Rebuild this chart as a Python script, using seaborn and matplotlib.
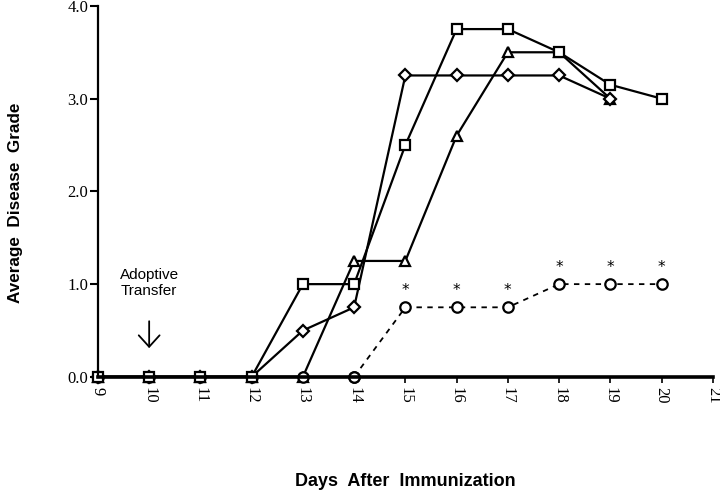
import numpy as np
import pandas as pd
import matplotlib.pyplot as plt
import seaborn as sns

days = [9, 10, 11, 12, 13, 14, 15, 16, 17, 18, 19, 20]
square = [0, 0, 0, 0, 1.0, 1.0, 2.5, 3.75, 3.75, 3.5, 3.15, 3.0]
diamond = [0, 0, 0, 0, 0.5, 0.75, 3.25, 3.25, 3.25, 3.25, 3.0]
triangle = [0, 0, 0, 0, 0, 1.25, 1.25, 2.6, 3.5, 3.5, 3.0]
circle = [0, 0, 0, 0, 0, 0, 0.75, 0.75, 0.75, 1.0, 1.0, 1.0]
star_days = [15, 16, 17, 18, 19, 20]

sns.set_style('white')
plt.rcParams['font.family'] = ['Liberation Serif', 'DejaVu Serif']
for k in ['text.color', 'axes.labelcolor', 'xtick.color', 'ytick.color']:
    plt.rcParams[k] = 'black'

fig = plt.figure(figsize=(7.2, 4.92), dpi=100)
ax = fig.add_axes([0.136, 0.234, 0.854, 0.754])

common = dict(color='black', linewidth=1.6, markerfacecolor='white',
              markeredgecolor='black', markeredgewidth=1.6, clip_on=False)

sns.lineplot(x=days[:len(triangle)], y=triangle, marker='^', markersize=7.5, ax=ax, **common)
sns.lineplot(x=days[:len(diamond)], y=diamond, marker='D', markersize=6, ax=ax, **common)
# circle group: solid up to day 14, dashed afterwards
sns.lineplot(x=days[:6], y=circle[:6], marker='o', markersize=7.5, ax=ax, **common)
dash = dict(common, linewidth=1.3)
sns.lineplot(x=days[5:], y=circle[5:], marker='o', markersize=7.5, linestyle=(0, (3, 3)),
             ax=ax, **dash)
sns.lineplot(x=days, y=square, marker='s', markersize=7.5, ax=ax, **common)

# significance stars
for d in star_days:
    v = circle[days.index(d)]
    ax.text(d, v + 0.1, '*', ha='center', va='bottom', fontsize=11, family='DejaVu Sans')

ax.text(10, 1.01, 'Adoptive\nTransfer', ha='center', va='center', fontsize=11,
        family='Liberation Sans', linespacing=1.15)
ax.annotate('', xy=(10, 0.31), xytext=(10, 0.6),
            arrowprops=dict(arrowstyle='->,head_length=0.55,head_width=0.5',
                            color='black', lw=1.3, mutation_scale=15,
                            shrinkA=0, shrinkB=0))

ax.set_xlim(9, 21)
ax.set_ylim(0, 4)
ax.set_xticks(range(9, 22))
ax.set_xticklabels([str(d) for d in range(9, 22)], rotation=-90, fontsize=12)
ax.set_yticks([0, 1, 2, 3, 4])
ax.set_yticklabels(['0.0', '1.0', '2.0', '3.0', '4.0'], fontsize=12)
ax.tick_params(axis='y', direction='out', length=6, width=1.5, left=True, pad=1)
ax.tick_params(axis='x', direction='out', length=4, width=1.2, bottom=True, pad=3)

for s in ['top', 'right']:
    ax.spines[s].set_visible(False)
ax.spines['left'].set_linewidth(1.6)
ax.spines['bottom'].set_linewidth(2.6)
ax.spines['left'].set_color('black')
ax.spines['bottom'].set_color('black')

ax.set_xlabel('Days  After  Immunization', fontsize=13, fontweight='bold',
              family='Liberation Sans', labelpad=50)
ax.set_ylabel('Average  Disease  Grade', fontsize=12.3, fontweight='bold',
              family='Liberation Sans', labelpad=36)
ax.yaxis.set_label_coords(-0.122, 0.47)

fig.savefig('out.png', dpi=100)
